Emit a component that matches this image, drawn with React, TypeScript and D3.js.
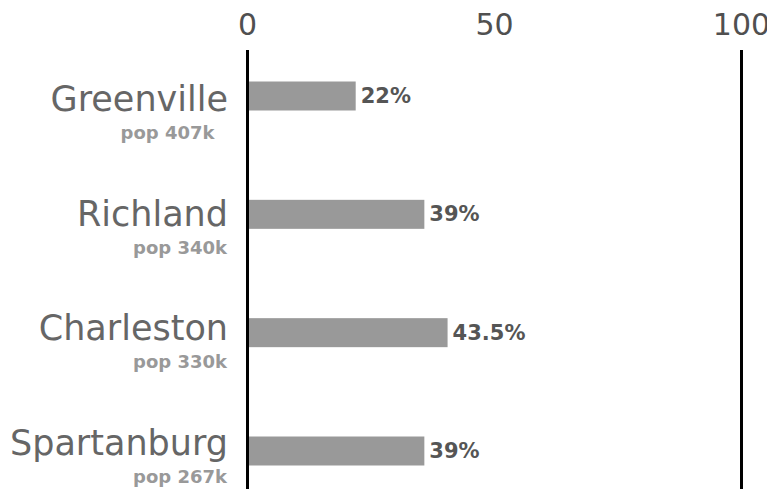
import React from "react";
import * as d3 from "d3";

const counties = ["Greenville", "Richland", "Charleston", "Spartanburg"];
const popLabels = ["pop 407k\u00a0\u00a0", "pop 340k", "pop 330k", "pop 267k"];
const barValues = [21.9, 35.8, 40.5, 35.8];
const valueLabels = ["22%", "39%", "43.5%", "39%"];
const tickValues = [0, 50, 100];
const gridValues = [0, 100];

const W = 767;
const H = 489;
const FONT = "'DejaVu Sans', Verdana, sans-serif";

export default function App() {
  const x = d3.scaleLinear().domain([0, 100]).range([247.5, 741.5]);
  const yBar = d3.scalePoint<string>().domain(counties).range([96, 451]);
  const yLabel = d3.scalePoint<string>().domain(counties).range([111, 455]);
  const barH = 29;

  return (
    <svg
      width={W}
      height={H}
      style={{ position: "absolute", left: 0, top: 0, background: "#fff" }}
      fontFamily={FONT}
    >
      {tickValues.map((t) => (
        <text
          key={"t" + t}
          x={x(t)}
          y={35}
          textAnchor="middle"
          fontSize={30}
          fill="#505050"
        >
          {t}
        </text>
      ))}
      {gridValues.map((g) => (
        <line
          key={"g" + g}
          x1={x(g)}
          x2={x(g)}
          y1={50}
          y2={H}
          stroke="#000"
          strokeWidth={3}
        />
      ))}
      {counties.map((c, i) => {
        const cy = yBar(c) as number;
        const ly = yLabel(c) as number;
        return (
          <g key={c}>
            <rect
              x={x(0) + 1.5}
              y={cy - barH / 2}
              width={x(barValues[i]) - x(0) - 1.5}
              height={barH}
              fill="#999"
            />
            <text
              x={x(barValues[i]) + 5}
              y={cy + 7}
              fontSize={21}
              fontWeight="bold"
              fill="#555"
            >
              {valueLabels[i]}
            </text>
            <text x={228} y={ly} textAnchor="end" fontSize={35} fill="#666">
              {c}
            </text>
            <text
              x={227}
              y={ly + 28}
              textAnchor="end"
              fontSize={18}
              fontWeight="bold"
              fill="#999"
            >
              {popLabels[i]}
            </text>
          </g>
        );
      })}
    </svg>
  );
}
